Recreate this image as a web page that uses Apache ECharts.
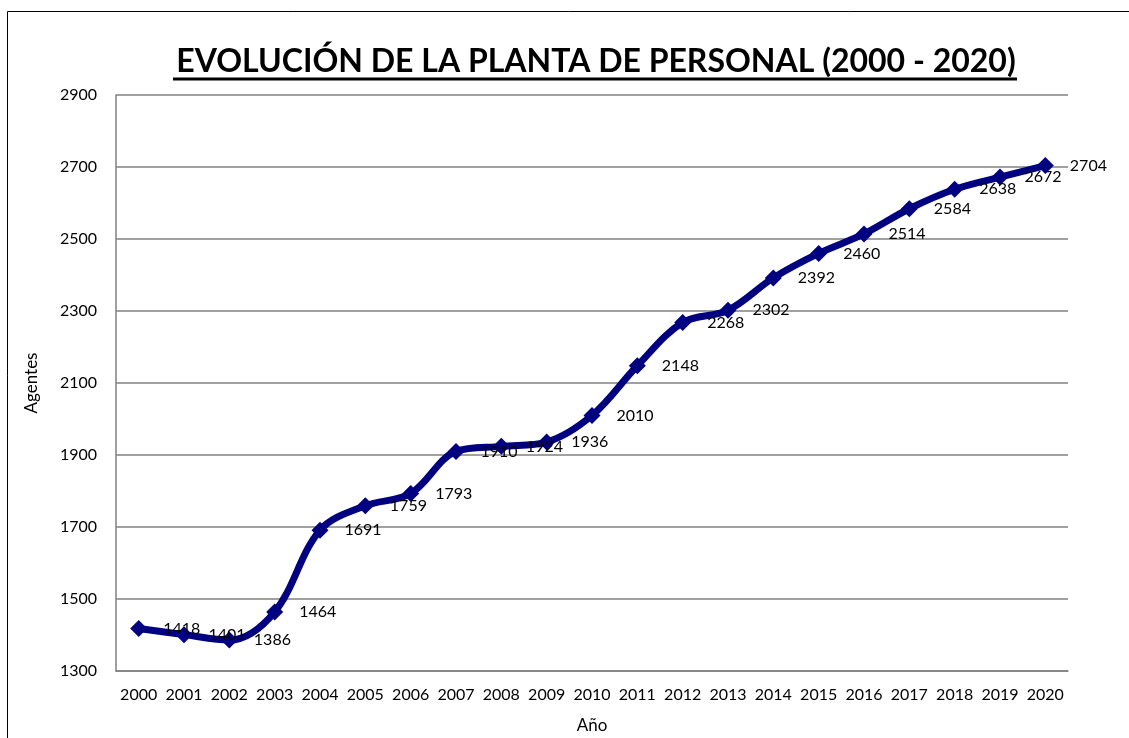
<!DOCTYPE html>
<html>
<head>
<meta charset="utf-8">
<script src="https://cdn.jsdelivr.net/npm/echarts@6/dist/echarts.min.js"></script>
<style>
  html, body { margin: 0; padding: 0; background: #fff; }
  #chart { width: 1129px; height: 738px; }
</style>
</head>
<body>
<div id="chart"></div>
<script>
// datos de la planta de personal
var years = ['2000', '2001', '2002', '2003', '2004', '2005', '2006', '2007', '2008', '2009', '2010',
             '2011', '2012', '2013', '2014', '2015', '2016', '2017', '2018', '2019', '2020'];
var agentes = [1418, 1401, 1386, 1464, 1691, 1759, 1793, 1910, 1924, 1936, 2010,
               2148, 2268, 2302, 2392, 2460, 2514, 2584, 2638, 2672, 2704];

var myChart = echarts.init(document.getElementById('chart'));
var fuente = 'Lato, "Open Sans", sans-serif';

var option = {
    backgroundColor: '#fff',
    animation: false,
    title: {
        text: 'EVOLUCIÓN DE LA PLANTA DE PERSONAL (2000 - 2020)',
        left: 591,
        top: 41,
        textAlign: 'center',
        textStyle: {
            fontFamily: fuente,
            fontWeight: 'bold',
            fontSize: 32,
            color: '#000'
        }
    },
    // marco del gráfico y subrayado del título
    graphic: [
        {
            type: 'polyline',
            shape: { points: [[7.5, 740], [7.5, 11.5], [1135, 11.5]] },
            style: { stroke: '#000', lineWidth: 1, fill: null }
        },
        {
            type: 'line',
            shape: { x1: 173, y1: 79, x2: 1017, y2: 79 },
            style: { stroke: '#000', lineWidth: 3 }
        }
    ],
    grid: {
        left: 116,
        right: 61,
        top: 95,
        bottom: 67,
        containLabel: false,
        outerBoundsMode: 'none'
    },
    xAxis: {
        type: 'category',
        data: years,
        boundaryGap: true,
        name: 'Año',
        nameLocation: 'middle',
        nameGap: 46,
        nameTextStyle: { fontFamily: fuente, fontSize: 17, color: '#000' },
        axisLine: { show: true, lineStyle: { color: '#808080', width: 1.5 } },
        axisTick: { show: false },
        axisLabel: { fontFamily: fuente, fontSize: 16, color: '#000', margin: 16, interval: 0 }
    },
    yAxis: {
        type: 'value',
        min: 1300,
        max: 2900,
        interval: 200,
        name: 'Agentes',
        nameLocation: 'middle',
        nameGap: 76,
        nameRotate: 90,
        nameTextStyle: { fontFamily: fuente, fontSize: 17, color: '#000' },
        axisLine: { show: true, lineStyle: { color: '#808080', width: 1.5 } },
        axisTick: { show: false },
        axisLabel: {
            fontFamily: fuente, fontSize: 16, color: '#000', margin: 19,
            formatter: function (v) { return String(v); }
        },
        splitLine: { show: true, lineStyle: { color: '#808080', width: 1.5 } }
    },
    series: [{
        name: 'Agentes',
        type: 'line',
        data: agentes,
        smooth: 0.35,
        symbol: 'diamond',
        symbolSize: 17,
        lineStyle: { color: '#000080', width: 7 },
        itemStyle: { color: '#000080' },
        label: {
            show: true,
            position: 'right',
            distance: 16,
            fontFamily: fuente,
            fontSize: 16,
            color: '#000'
        }
    }]
};

myChart.setOption(option);
</script>
</body>
</html>
